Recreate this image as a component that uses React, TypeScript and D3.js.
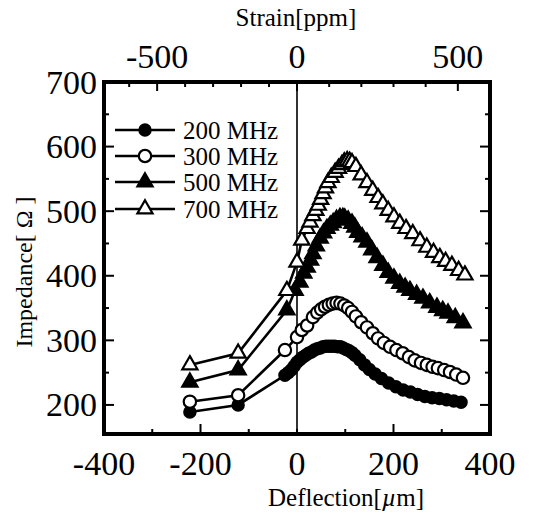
import React from 'react';
import * as d3 from 'd3';

const W = 538;
const H = 520;
const box = { left: 104, right: 490, top: 82, bottom: 434 };

// axis ticks / labels
const deflTicks = [-300, -200, -100, 0, 100, 200, 300];
const deflLabels = [-400, -200, 0, 200, 400];
const impTicks = [200, 250, 300, 350, 400, 450, 500, 550, 600, 650];
const impLabels = [200, 300, 400, 500, 600, 700];
const strainTicks = [-600, -500, -400, -300, -200, -100, 0, 100, 200, 300, 400, 500];
const strainLabels = [-500, 0, 500];

// 200 MHz (filled circle)
const defl200 = [-222, -122, -25, -18, -12, -6, 0, 6, 12, 18, 24, 30, 36, 42, 48, 54, 60, 66, 72, 78, 84, 90, 96, 102, 108, 114, 120, 130, 140, 150, 162, 175, 190, 205, 220, 235, 250, 265, 280, 295, 310, 325, 340];
const imp200 = [189, 200, 246, 250, 254, 260, 266, 270, 274, 277, 280, 282, 285, 287, 288, 290, 291, 291, 291, 291, 290, 290, 288, 286, 284, 281, 277, 270, 262, 255, 248, 241, 234, 228, 223, 220, 216, 213, 211, 210, 208, 206, 204];

// 300 MHz (open circle)
const defl300 = [-222, -122, -25, 0, 10, 21, 33, 42, 50, 58, 66, 74, 82, 90, 98, 106, 114, 122, 133, 145, 157, 168, 180, 193, 206, 219, 232, 244, 257, 269, 281, 292, 305, 317, 330, 344];
const imp300 = [205, 215, 285, 305, 316, 323, 336, 343, 348, 352, 355, 357, 358, 357, 354, 350, 344, 337, 328, 320, 311, 303, 296, 290, 285, 280, 274, 269, 265, 262, 259, 257, 254, 251, 247, 242];

// 500 MHz (filled triangle)
const defl500 = [-222, -122, -21, -4, 6, 14, 21, 28, 33, 40, 48, 55, 62, 69, 75, 82, 89, 95, 99, 106, 114, 120, 126, 135, 145, 155, 166, 178, 189, 201, 213, 224, 234, 248, 261, 275, 290, 302, 313, 328, 344];
const imp500 = [235, 254, 347, 377, 390, 404, 413, 424, 434, 446, 458, 466, 473, 478, 482, 487, 490, 490, 489, 486, 481, 475, 467, 460, 452, 440, 428, 416, 405, 396, 388, 382, 377, 371, 365, 358, 351, 346, 342, 335, 327];

// 700 MHz (open triangle)
const defl700 = [-222, -122, -21, 0, 10, 21, 27, 33, 39, 44, 49, 54, 59, 64, 71, 79, 86, 93, 98, 104, 109, 114, 122, 133, 145, 157, 168, 178, 189, 201, 213, 226, 240, 255, 269, 283, 296, 308, 321, 335, 348];
const imp700 = [262, 280, 377, 421, 455, 473, 483, 493, 501, 509, 518, 527, 536, 544, 552, 560, 566, 572, 576, 578, 577, 575, 569, 556, 544, 532, 521, 511, 501, 491, 481, 473, 465, 454, 444, 436, 428, 422, 416, 408, 401];

const seriesNames = ['200 MHz', '300 MHz', '500 MHz', '700 MHz'];

const FONT = "'Liberation Serif', 'DejaVu Serif', serif";

type Kind = 'circle' | 'triangle';

function Marker({ x, y, kind, filled }: { x: number; y: number; kind: Kind; filled: boolean }) {
  const sym = kind === 'circle' ? d3.symbolCircle : d3.symbolTriangle;
  const size = kind === 'circle' ? (filled ? 100 : 120) : 100;
  const path = d3.symbol().type(sym).size(size)() as string;
  return (
    <path
      d={path}
      transform={`translate(${x},${y})`}
      fill={filled ? '#000' : '#fff'}
      stroke="#000"
      strokeWidth={2.2}
    />
  );
}

function Label(props: any) {
  const { size, children, ...rest } = props;
  return (
    <text {...rest} dominantBaseline="central" style={{ fontFamily: FONT, fontSize: size }}>
      {children}
    </text>
  );
}

export default function App() {
  const x = d3.scaleLinear().domain([-400, 400]).range([box.left, box.right]);
  const y = d3.scaleLinear().domain([155, 700]).range([box.bottom, box.top]);
  // top strain axis as printed on the figure
  const xs = d3.scaleLinear().domain([-690, 0, 600]).range([box.left, x(0), box.right]);

  const series = [
    { name: seriesNames[0], xv: defl200, yv: imp200, kind: 'circle' as Kind, filled: true },
    { name: seriesNames[1], xv: defl300, yv: imp300, kind: 'circle' as Kind, filled: false },
    { name: seriesNames[2], xv: defl500, yv: imp500, kind: 'triangle' as Kind, filled: true },
    { name: seriesNames[3], xv: defl700, yv: imp700, kind: 'triangle' as Kind, filled: false },
  ];

  const line = d3.line<[number, number]>()
    .x(d => x(d[0]))
    .y(d => y(d[1]));

  const legendY = [130, 156, 182, 209];

  return (
    <svg width={W} height={H} style={{ position: 'absolute', left: 0, top: 0, background: '#fff' }}>
      <rect width={W} height={H} fill="#fff" />

      {/* zero deflection line */}
      <line x1={x(0)} x2={x(0)} y1={box.top} y2={box.bottom} stroke="#000" strokeWidth={1.6} />

      {/* data */}
      {series.map(s => {
        const pts = s.xv.map((d, i) => [d, s.yv[i]] as [number, number]);
        return (
          <g key={s.name}>
            <path d={line(pts) as string} fill="none" stroke="#000" strokeWidth={2.6} />
            {pts.map((p, i) => (
              <Marker key={i} x={x(p[0])} y={y(p[1])} kind={s.kind} filled={s.filled} />
            ))}
          </g>
        );
      })}

      {/* legend */}
      {series.map((s, i) => (
        <g key={'lg' + s.name}>
          <line x1={115} x2={175} y1={legendY[i]} y2={legendY[i]} stroke="#000" strokeWidth={2.6} />
          <Marker x={145} y={legendY[i]} kind={s.kind} filled={s.filled} />
          <Label x={183} y={legendY[i]} size={25}>{s.name}</Label>
        </g>
      ))}

      {/* frame */}
      <rect x={box.left} y={box.top} width={box.right - box.left} height={box.bottom - box.top}
        fill="none" stroke="#000" strokeWidth={4} />

      {/* bottom ticks */}
      {deflTicks.map(t => (
        <line key={'bt' + t} x1={x(t)} x2={x(t)} y1={box.bottom}
          y2={box.bottom - (t === 200 || t === -200 ? 10 : 5)} stroke="#000" strokeWidth={2} />
      ))}
      {deflLabels.map(t => (
        <Label key={'bl' + t} x={x(t)} y={463} textAnchor="middle" size={34}>{t}</Label>
      ))}

      {/* left / right ticks */}
      {impTicks.map(t => (
        <g key={'it' + t}>
          <line x1={box.left} x2={box.left + (t % 100 === 0 ? 10 : 5)} y1={y(t)} y2={y(t)} stroke="#000" strokeWidth={2} />
          <line x1={box.right} x2={box.right - (t % 100 === 0 ? 10 : 5)} y1={y(t)} y2={y(t)} stroke="#000" strokeWidth={2} />
        </g>
      ))}
      {impLabels.map(t => (
        <Label key={'il' + t} x={97} y={y(t)} textAnchor="end" size={34}>{t}</Label>
      ))}

      {/* top strain axis */}
      {strainTicks.map(t => (
        <line key={'st' + t} x1={xs(t)} x2={xs(t)} y1={box.top}
          y2={box.top + (t % 500 === 0 ? 9 : 5)} stroke="#000" strokeWidth={2} />
      ))}
      {strainLabels.map(t => (
        <Label key={'sl' + t} x={xs(t)} y={56} textAnchor="middle" size={34}>{t}</Label>
      ))}

      {/* titles */}
      <Label x={296} y={17} textAnchor="middle" size={25}>Strain[ppm]</Label>
      <Label x={346} y={497} textAnchor="middle" size={25}>
        Deflection[<tspan fontStyle="italic">µ</tspan>m]
      </Label>
      <Label transform={`translate(24,${272}) rotate(-90)`} textAnchor="middle" size={24}>
        Impedance[ Ω ]
      </Label>
    </svg>
  );
}
